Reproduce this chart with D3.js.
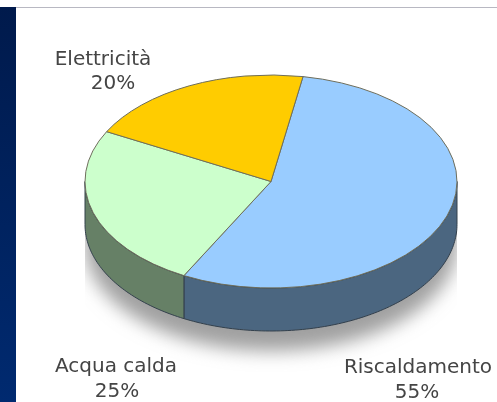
<!DOCTYPE html>
<html>
<head>
<meta charset="utf-8">
<script src="https://cdn.jsdelivr.net/npm/d3@7"></script>
<style>
  html, body { margin: 0; padding: 0; background: #fff; overflow: hidden; }
  text { font-family: "DejaVu Sans", sans-serif; font-size: 20px; fill: #444; text-anchor: middle; }
</style>
</head>
<body>
<div id="chart"></div>
<script>
const categories = ["Riscaldamento", "Acqua calda", "Elettricità"];
const percents = [55, 25, 20];
const topColors = ["#99ccff", "#ccffcc", "#ffcc00"];
const sideColors = ["#4c6680", "#668066", "#806600"];

const width = 497, height = 402;
const cx = 271, cy = 181.5, rx = 186, ry = 106.5, depth = 43;
const firstAngle = 0.173;

// label anchor points, name line then percent line
const labelPos = {
  "Riscaldamento": { x: 418, y: 373, px: 417, py: 398 },
  "Acqua calda": { x: 116, y: 372, px: 117, py: 397 },
  "Elettricità": { x: 103, y: 65, px: 113, py: 89 }
};

const svg = d3.select("#chart").append("svg")
  .attr("width", width)
  .attr("height", height)
  .style("display", "block");

const defs = svg.append("defs");

const band = defs.append("linearGradient")
  .attr("id", "band")
  .attr("x1", 0).attr("y1", 0).attr("x2", 0).attr("y2", 1);
band.append("stop").attr("offset", "0%").attr("stop-color", "#001a4c");
band.append("stop").attr("offset", "100%").attr("stop-color", "#002a70");

defs.append("filter").attr("id", "soft")
  .append("feGaussianBlur").attr("stdDeviation", 0.55);

const shadowFilter = defs.append("filter").attr("id", "shadow")
  .attr("x", "-10%").attr("y", "-10%").attr("width", "120%").attr("height", "130%");
shadowFilter.append("feGaussianBlur").attr("stdDeviation", 9);

defs.append("clipPath").attr("id", "shadowClip")
  .append("rect").attr("x", cx - rx).attr("y", 200).attr("width", rx * 2).attr("height", 200);

// page furniture
svg.append("rect").attr("x", 0).attr("y", 7).attr("width", 16).attr("height", height - 7).attr("fill", "url(#band)");
svg.append("line").attr("x1", 16).attr("x2", width).attr("y1", 7.5).attr("y2", 7.5).attr("stroke", "#b8b8c2");

const x = a => cx + rx * Math.sin(a);
const y = a => cy - ry * Math.cos(a);

const pie = d3.pie().sort(null)
  .startAngle(firstAngle)
  .endAngle(firstAngle + 2 * Math.PI);
const slices = pie(percents);

const chart = svg.append("g").attr("filter", "url(#soft)");

// front wall outline for one angle span
function wallPath(a0, a1, d) {
  const steps = d3.range(a0, a1, 0.02).concat([a1]);
  const edge = steps.map(a => [x(a), y(a)]);
  const lower = steps.slice().reverse().map(a => [x(a), y(a) + d]);
  return d3.line()(edge.concat(lower)) + "Z";
}

// soft shadow under the pie
svg.insert("g", "g")
  .attr("clip-path", "url(#shadowClip)")
  .append("path")
  .attr("d", wallPath(Math.PI / 2, Math.PI * 1.5, depth + 20))
  .attr("fill", "#a0a0a0")
  .attr("filter", "url(#shadow)");

// walls: only the front half of each slice is visible
slices.forEach((s, i) => {
  const a0 = Math.max(s.startAngle, Math.PI / 2);
  const a1 = Math.min(s.endAngle, Math.PI * 1.5);
  if (a1 <= a0) return;
  chart.append("path")
    .attr("d", wallPath(a0, a1, depth))
    .attr("fill", sideColors[i])
    .attr("stroke", "#33404c")
    .attr("stroke-width", 1);
});

const arc = d3.arc().innerRadius(0).outerRadius(rx);

chart.append("g")
  .attr("transform", `translate(${cx},${cy}) scale(1,${ry / rx})`)
  .selectAll("path")
  .data(slices)
  .enter()
  .append("path")
  .attr("d", arc)
  .attr("fill", (d, i) => topColors[i])
  .attr("stroke", "#6e6e5c")
  .attr("stroke-width", 1)
  .attr("vector-effect", "non-scaling-stroke");

const labels = svg.append("g").attr("filter", "url(#soft)");
categories.forEach((c, i) => {
  const p = labelPos[c];
  labels.append("text").attr("x", p.x).attr("y", p.y).text(c);
  labels.append("text").attr("x", p.px).attr("y", p.py).text(percents[i] + "%");
});
</script>
</body>
</html>
